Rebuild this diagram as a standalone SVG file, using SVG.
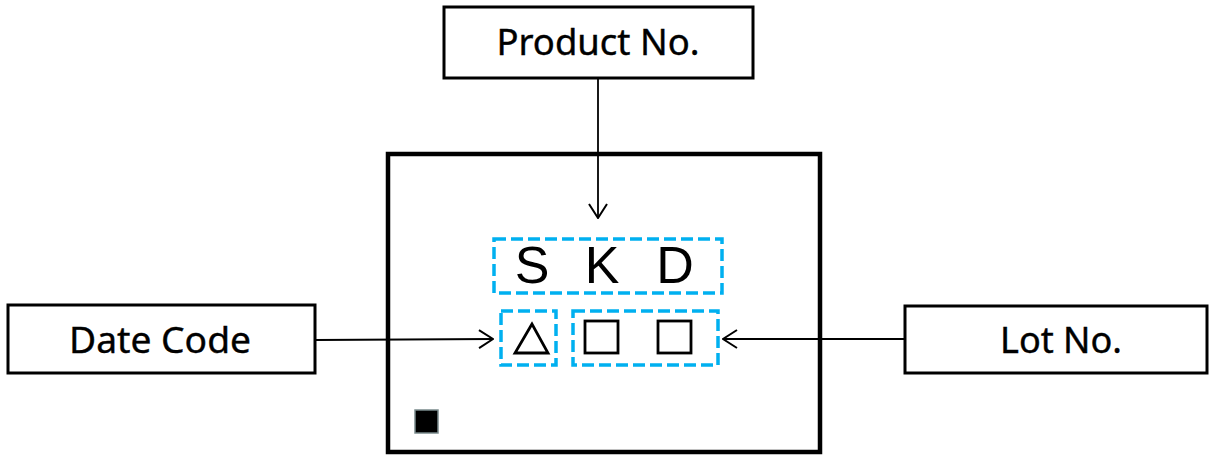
<svg xmlns="http://www.w3.org/2000/svg" width="1209" height="455" viewBox="0 0 1209 455">
<style>
.box{fill:#fff;stroke:#000;stroke-width:3}
.lbl{font-family:"Noto Sans","Open Sans",sans-serif;font-size:36px;fill:#000;stroke:#000;stroke-width:0.4;text-anchor:middle}
.dash{fill:none;stroke:#00B0F0;stroke-width:3.5;stroke-dasharray:12 5}
.conn{fill:none;stroke:#000;stroke-width:1.8}
.sym{fill:none;stroke:#000;stroke-width:2.8}
</style>
<defs>
<marker id="arr" viewBox="0 0 16 20" refX="15" refY="10" markerWidth="16" markerHeight="20" markerUnits="userSpaceOnUse" orient="auto">
<path d="M1,1 L15,10 L1,19" fill="none" stroke="#000" stroke-width="2"/>
</marker>
</defs>
<rect width="1209" height="455" fill="#fff"/>
<g id="package">
<rect x="388" y="154" width="432" height="298" fill="#fff" stroke="#000" stroke-width="4.5"/>
<rect x="415" y="410" width="23" height="23" fill="#000" stroke="#7a8a8c" stroke-width="1.5"/>
</g>
<g id="product-code">
<rect class="dash" x="494" y="239" width="228" height="54"/>
<text font-family="'Liberation Sans',Arial,sans-serif" font-size="52" text-anchor="middle" fill="#000"><tspan x="532" y="283">S</tspan><tspan x="602" y="283">K</tspan><tspan x="675" y="283">D</tspan></text>
</g>
<g id="date-code-mark">
<rect class="dash" x="501" y="311" width="55" height="54"/>
<path class="sym" d="M532,324 L515,353 L548,353 Z"/>
</g>
<g id="lot-mark">
<rect class="dash" x="573" y="311" width="145" height="54"/>
<rect class="sym" x="585" y="321" width="33" height="32"/>
<rect class="sym" x="658" y="321" width="33" height="32"/>
</g>
<g id="product-no">
<rect class="box" x="444" y="7" width="309" height="71"/>
<text class="lbl" x="598" y="55" textLength="203" lengthAdjust="spacingAndGlyphs">Product No.</text>
</g>
<g id="date-code">
<rect class="box" x="8" y="305" width="307" height="68"/>
<text class="lbl" x="160" y="353" textLength="182" lengthAdjust="spacingAndGlyphs">Date Code</text>
</g>
<g id="lot-no">
<rect class="box" x="905" y="306" width="302" height="67"/>
<text class="lbl" x="1061" y="353" textLength="122" lengthAdjust="spacingAndGlyphs">Lot No.</text>
</g>
<g id="connectors">
<line class="conn" x1="316" y1="340" x2="493" y2="339" marker-end="url(#arr)"/>
<line class="conn" x1="598" y1="78" x2="598" y2="218" marker-end="url(#arr)"/>
<line class="conn" x1="905" y1="339" x2="723" y2="339" marker-end="url(#arr)"/>
</g>
</svg>
